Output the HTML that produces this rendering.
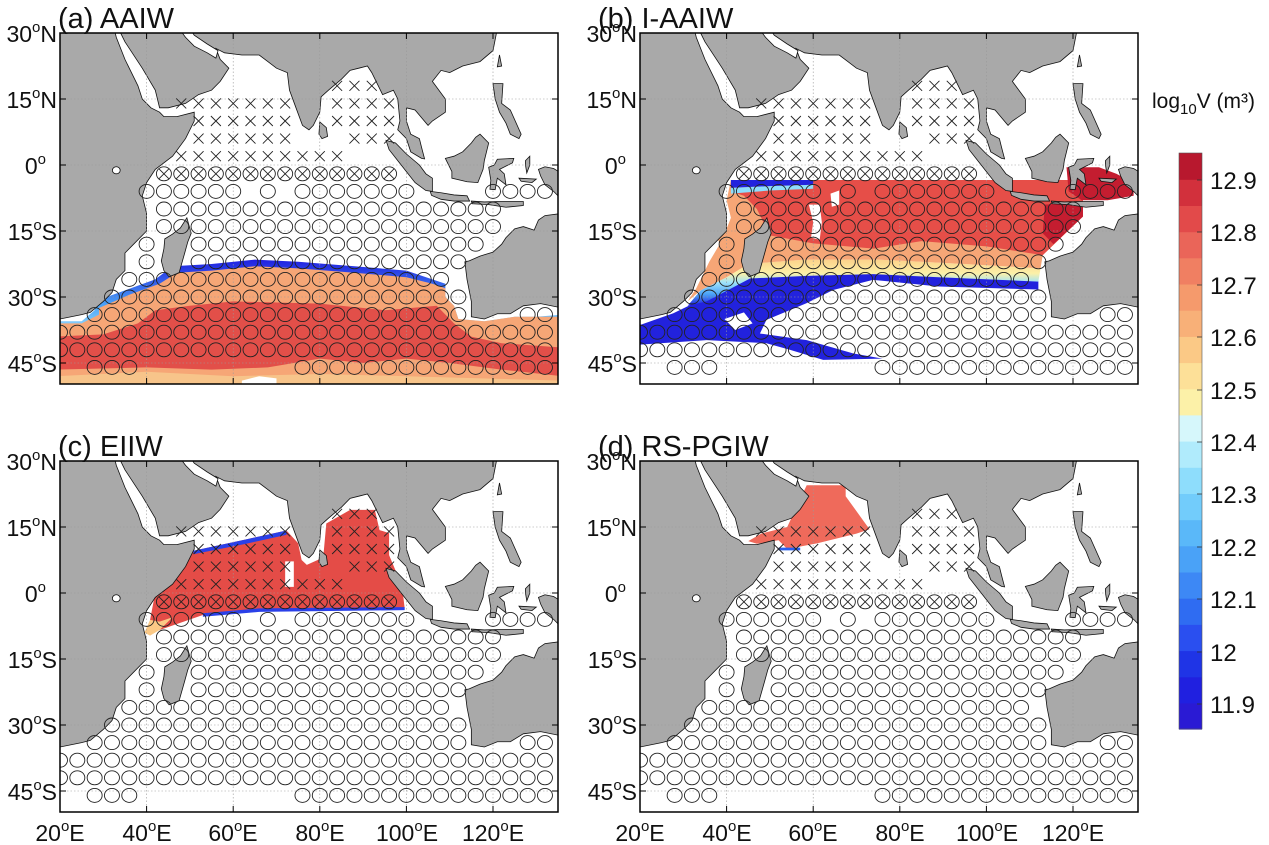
<!DOCTYPE html>
<html><head><meta charset="utf-8">
<style>
html,body{margin:0;padding:0;background:#fff;}
svg{display:block;font-family:"Liberation Sans",Arial,sans-serif;}
</style></head>
<body>
<svg id="s" width="1269" height="845" viewBox="0 0 1269 845" xmlns="http://www.w3.org/2000/svg">
<defs>
<clipPath id="cp"><rect x="0" y="0" width="498" height="351"/></clipPath>
<linearGradient id="bandB" x1="0" y1="0" x2="0" y2="1">
<stop offset="0" stop-color="#fcd28a"/><stop offset="0.3" stop-color="#fcf1a8"/><stop offset="0.5" stop-color="#9ee3fb"/><stop offset="0.75" stop-color="#4aa2f7"/><stop offset="1" stop-color="#2020e0"/>
</linearGradient>
<linearGradient id="bandA" x1="0" y1="0" x2="0" y2="1">
<stop offset="0" stop-color="#2020e0"/><stop offset="0.35" stop-color="#4aa2f7"/><stop offset="0.6" stop-color="#b0ebfc"/><stop offset="1" stop-color="#fcf1a8"/>
</linearGradient>
<g id="land" fill="#a9a9a9" stroke="#111" stroke-width="0.8" vector-effect="non-scaling-stroke">
<polygon vector-effect="non-scaling-stroke" points="19,-31 32.5,-31 33,-29 35,-24 38,-18 39,-15 41,-13 43,-12 44,-11 47,-11 51,-12 51,-10 49,-6 46,-2 42,1 40,4 39,7 40,11 40,15 37,18 35,20 35,24 33,26 32,29 30,31 27,33.5 25,34 20,35 19,35"/>
<polygon vector-effect="non-scaling-stroke" points="34,-31 34,-30 35,-28 39,-22 42,-17 43,-13 45,-13 49,-14 52,-16 55,-17 57,-19 59,-22 57,-24 56,-26.5 58,-25.5 62,-25 66,-25 68,-23.5 70,-22 72.5,-21 73,-17 74.5,-13 76,-9 77.5,-8 78.5,-9 80,-12 80.3,-15.5 82,-17 85,-19.5 87,-21.5 89,-22 91,-22.5 92,-21 94,-17 94.5,-16 97,-17 98,-15 98.5,-10 98,-8 100,-6 101,-3 103.5,-1.5 104.2,-1.4 103.5,-4 103,-6 101,-7 100,-10 100,-13 102,-12.5 105,-9 106,-10 109,-12 109,-15 106,-19 108,-21.5 110,-21 111,-21.5 113,-22.5 117,-23.5 120,-26 121,-31"/>
<polygon fill="#fff" vector-effect="non-scaling-stroke" points="47.5,-31 49,-29 51,-27 54,-25.5 56,-24.3 56.5,-26 54,-27.5 51,-29.5 50,-31"/>
<polygon vector-effect="non-scaling-stroke" points="80,-9.8 81.5,-8.5 81.8,-6.5 80.5,-6 79.8,-7"/>
<polygon vector-effect="non-scaling-stroke" points="95.3,-5.6 97.5,-5 100,-2.5 103,0 104.5,2 106,3 106,6 104.5,5.8 102,4 100,1.5 98,-1 96,-3.5"/>
<polygon vector-effect="non-scaling-stroke" points="105.5,6 108,6.3 111,6.8 114,7 114.6,8.2 111,8.2 108,7.8 105.8,6.9"/>
<polygon vector-effect="non-scaling-stroke" points="115,8.2 118,8.4 121,8.3 124,8.3 127,8.3 127,9.2 123,9.6 119,9 115.2,8.8"/>
<polygon vector-effect="non-scaling-stroke" points="109,-1.5 110.5,1.5 110.5,3 114,3.8 116.5,4 117.7,1 118,-1 119,-5 117,-7 116,-6.3 115,-5 113,-3 111,-2"/>
<polygon vector-effect="non-scaling-stroke" points="119,0.5 119.5,3.5 119.3,5.5 120.5,5.6 121,3 123,4.5 122.6,2 121.5,1 124.5,-0.5 124.8,-1.5 121,-1.3 120.3,0"/>
<polygon vector-effect="non-scaling-stroke" points="120,-18.5 122.3,-18.5 122,-14 124,-12.5 126.5,-7 126,-6 124,-7 123,-9.5 121.5,-12 120.5,-15"/>
<polygon vector-effect="non-scaling-stroke" points="127.5,-1 128.5,-2 128.5,0 127.8,1.8 127.5,0"/>
<polygon vector-effect="non-scaling-stroke" points="130.5,1 132,0.4 134,0.8 136,2 136,8 134,6 132,4.5 131,2.5"/>
<polygon vector-effect="non-scaling-stroke" points="126,3 130,3.2 129,4 126.5,3.7"/>
<polygon vector-effect="non-scaling-stroke" points="113.5,22 114,26 115,31 115,34.5 118,35 121,33.8 124,33.8 127,32 131,31.5 136,32.5 136,11 132,11.5 130.5,12.5 129.5,14.8 127,14 125,14.5 123,16.5 122,18 120,19.8 117,20.7 114.5,21.8"/>
<polygon vector-effect="non-scaling-stroke" points="49.3,12 50.3,15.5 49.5,17.5 48.8,20 47.5,24.5 45.2,25.4 44,24 43.4,21.8 44,19 44.2,16.8 46,15.7 47.8,14.3"/>
<polygon vector-effect="non-scaling-stroke" points="121.5,-25 122,-22.5 121,-22.3"/>
<ellipse vector-effect="non-scaling-stroke" cx="33" cy="1.2" rx="0.9" ry="0.8" fill="#fff"/>
</g>
</defs>
<g id="panels"></g>

<g id="cbar"></g>
<rect x="1179" y="153" width="23" height="576" fill="none" stroke="#555" stroke-width="0.6"/>
<g font-size="24" fill="#111">
<text x="1210" y="189">12.9</text>
<text x="1210" y="241">12.8</text>
<text x="1210" y="294">12.7</text>
<text x="1210" y="346">12.6</text>
<text x="1210" y="399">12.5</text>
<text x="1210" y="451">12.4</text>
<text x="1210" y="503">12.3</text>
<text x="1210" y="556">12.2</text>
<text x="1210" y="608">12.1</text>
<text x="1210" y="661">12</text>
<text x="1210" y="713">11.9</text>
<text x="1152" y="108" font-size="21">log<tspan font-size="15" dy="6">10</tspan><tspan dy="-6">V (m³)</tspan></text>
</g>

<g font-size="29" fill="#111">
<text x="58" y="28">(a) AAIW</text>
<text x="598" y="28">(b) I-AAIW</text>
<text x="58" y="456">(c) EIIW</text>
<text x="598" y="456">(d) RS-PGIW</text>
</g>
<g font-size="23" fill="#111" text-anchor="end">
<text x="57" y="42">30<tspan font-size="15" dy="-10">o</tspan><tspan dy="10">N</tspan></text>
<text x="57" y="108">15<tspan font-size="15" dy="-10">o</tspan><tspan dy="10">N</tspan></text>
<text x="46" y="174">0<tspan font-size="15" dy="-10">o</tspan></text>
<text x="57" y="240">15<tspan font-size="15" dy="-10">o</tspan><tspan dy="10">S</tspan></text>
<text x="57" y="306">30<tspan font-size="15" dy="-10">o</tspan><tspan dy="10">S</tspan></text>
<text x="57" y="372">45<tspan font-size="15" dy="-10">o</tspan><tspan dy="10">S</tspan></text>
<text x="637" y="42">30<tspan font-size="15" dy="-10">o</tspan><tspan dy="10">N</tspan></text>
<text x="637" y="108">15<tspan font-size="15" dy="-10">o</tspan><tspan dy="10">N</tspan></text>
<text x="626" y="174">0<tspan font-size="15" dy="-10">o</tspan></text>
<text x="637" y="240">15<tspan font-size="15" dy="-10">o</tspan><tspan dy="10">S</tspan></text>
<text x="637" y="306">30<tspan font-size="15" dy="-10">o</tspan><tspan dy="10">S</tspan></text>
<text x="637" y="372">45<tspan font-size="15" dy="-10">o</tspan><tspan dy="10">S</tspan></text>
<text x="57" y="470">30<tspan font-size="15" dy="-10">o</tspan><tspan dy="10">N</tspan></text>
<text x="57" y="536">15<tspan font-size="15" dy="-10">o</tspan><tspan dy="10">N</tspan></text>
<text x="46" y="602">0<tspan font-size="15" dy="-10">o</tspan></text>
<text x="57" y="668">15<tspan font-size="15" dy="-10">o</tspan><tspan dy="10">S</tspan></text>
<text x="57" y="734">30<tspan font-size="15" dy="-10">o</tspan><tspan dy="10">S</tspan></text>
<text x="57" y="800">45<tspan font-size="15" dy="-10">o</tspan><tspan dy="10">S</tspan></text>
<text x="637" y="470">30<tspan font-size="15" dy="-10">o</tspan><tspan dy="10">N</tspan></text>
<text x="637" y="536">15<tspan font-size="15" dy="-10">o</tspan><tspan dy="10">N</tspan></text>
<text x="626" y="602">0<tspan font-size="15" dy="-10">o</tspan></text>
<text x="637" y="668">15<tspan font-size="15" dy="-10">o</tspan><tspan dy="10">S</tspan></text>
<text x="637" y="734">30<tspan font-size="15" dy="-10">o</tspan><tspan dy="10">S</tspan></text>
<text x="637" y="800">45<tspan font-size="15" dy="-10">o</tspan><tspan dy="10">S</tspan></text>
</g>
<g font-size="23" fill="#111" text-anchor="middle">
<text x="60" y="841">20<tspan font-size="15" dy="-10">o</tspan><tspan dy="10">E</tspan></text>
<text x="147" y="841">40<tspan font-size="15" dy="-10">o</tspan><tspan dy="10">E</tspan></text>
<text x="233" y="841">60<tspan font-size="15" dy="-10">o</tspan><tspan dy="10">E</tspan></text>
<text x="320" y="841">80<tspan font-size="15" dy="-10">o</tspan><tspan dy="10">E</tspan></text>
<text x="407" y="841">100<tspan font-size="15" dy="-10">o</tspan><tspan dy="10">E</tspan></text>
<text x="493" y="841">120<tspan font-size="15" dy="-10">o</tspan><tspan dy="10">E</tspan></text>
<text x="640" y="841">20<tspan font-size="15" dy="-10">o</tspan><tspan dy="10">E</tspan></text>
<text x="727" y="841">40<tspan font-size="15" dy="-10">o</tspan><tspan dy="10">E</tspan></text>
<text x="813" y="841">60<tspan font-size="15" dy="-10">o</tspan><tspan dy="10">E</tspan></text>
<text x="900" y="841">80<tspan font-size="15" dy="-10">o</tspan><tspan dy="10">E</tspan></text>
<text x="987" y="841">100<tspan font-size="15" dy="-10">o</tspan><tspan dy="10">E</tspan></text>
<text x="1073" y="841">120<tspan font-size="15" dy="-10">o</tspan><tspan dy="10">E</tspan></text>
</g>
</svg>
<script>
(function(){
var cols=["#2a1ad4","#2020e0","#1f34e6","#2a4ff0","#2f6cf2","#3d88f5","#4aa2f7","#5ab8f9","#72ccfb","#8eddfc","#b0ebfc","#d6f7fb","#fcf1a8","#fde098","#fbc986","#f8b078","#f59a6c","#f07f62","#ea6559","#e24a4a","#d2303c","#b8182e"];
var cb="";
for(var i=0;i<22;i++){var y=729-(i+1)*576/22;cb+='<rect x="1179" y="'+y.toFixed(1)+'" width="23" height="'+(576/22+0.6).toFixed(1)+'" fill="'+cols[i]+'"/>';}
[189,241,294,346,399,451,503,556,608,661,713].forEach(function(t){var y=t-9;cb+='<line x1="1197" x2="1202" y1="'+y+'" y2="'+y+'" stroke="#333" stroke-width="0.8"/>';});
document.getElementById("cbar").innerHTML=cb;

function P(pts){return pts.map(function(p){return p[0]+","+(-p[1]);}).join(" ");}
function poly(pts,fill){return '<polygon points="'+P(pts)+'" fill="'+fill+'"/>';}

var fields={
a: poly([[28,-31],[35,-28.5],[42,-26],[46,-23],[55,-22.5],[65,-21.5],[75,-22],[88,-23],[100,-24],[106,-26],[109,-27],[109,-30],[111,-32],[112,-35],[118,-35.5],[125,-34.5],[130,-34.5],[136,-34],[136,-51],[19,-51],[19,-35.5],[25,-35.5],[28,-33]],"url(#bandA)")+
   poly([[29,-32.5],[36,-29.5],[43,-27],[47,-24.5],[55,-24],[65,-23],[75,-23.5],[88,-24.5],[100,-25.5],[106,-27],[109,-28],[109,-30],[111,-32],[112,-35],[118,-35.5],[125,-34.5],[130,-34.5],[136,-34.5],[136,-51],[19,-51],[19,-36],[25,-36],[29,-34]],"#f6a676")+
   poly([[38,-36],[42,-33],[50,-32],[60,-31],[80,-31.5],[95,-33],[107,-32],[111,-36],[115,-39],[122,-40.5],[136,-41.5],[136,-48],[122,-46.5],[110,-45],[100,-44],[90,-45],[80,-44],[68,-46],[55,-46.5],[40,-46],[19,-46.5],[19,-39],[30,-38.5]],"#e24f49")+
   poly([[19,-48],[40,-47],[60,-48],[80,-47.5],[100,-48],[136,-49],[136,-51],[19,-51]],"#f7c48a")+
   poly([[62,-49],[66,-48],[70,-48.5],[70,-51],[62,-51]],"#fff"),
b: poly([[19,-36.7],[27.7,-33.7],[35.4,-30],[45.4,-24.6],[58.5,-23.9],[73.8,-23.5],[89,-24.2],[112,-26.1],[112,-28.3],[89,-27.6],[73.8,-26.1],[64.6,-28.4],[58.5,-31.4],[49.2,-35.2],[47.7,-38.3],[58.5,-39.8],[69.2,-42.8],[76,-44],[62.3,-44.3],[54.6,-42],[49.2,-40.5],[35.4,-39.8],[19,-40.9]],"#2222dd")+
   poly([[39.5,-35],[44,-33.5],[46,-36],[42,-37.5]],"#fff")+
   poly([[34,-28.5],[40,-25.5],[45,-22.5],[58,-21.5],[75,-21.5],[95,-22.5],[112.5,-23.5],[112,-26.5],[89,-25.5],[73.8,-24.8],[58.5,-25.2],[45.4,-25.8],[35.4,-31],[31,-32]],"url(#bandB)")+
   poly([[41,-3.4],[122.3,-3.4],[122.3,-11.7],[113,-20.5],[112.5,-23.5],[95,-22.5],[75,-21.5],[58,-21.5],[45,-22.5],[40,-25.5],[34,-28.5],[31,-31],[33,-28],[36,-22],[39,-17],[41,-12],[40,-8]],"#f6a676")+
   poly([[41,-3.4],[122.3,-3.4],[122.3,-11.7],[113,-20.5],[100,-18.5],[85,-17.3],[74,-19],[60,-17.8],[50,-16],[47,-10],[44,-7],[41,-6]],"#e64e48")+
   poly([[41,-3.4],[60,-3.4],[60,-4.5],[50,-4.8],[41,-5.2]],"#2222dd")+
   poly([[41,-5.2],[50,-4.8],[60,-4.5],[60,-5.4],[50,-5.8],[41,-6.5]],"#8eddfc")+
   poly([[113.5,-9],[122.3,-8.5],[122.3,-11.7],[115.5,-18],[113,-15.5]],"#c41d30")+
   poly([[118.5,-0.5],[126,-0.5],[130,-2],[134,-4],[134,-7],[128,-8],[122,-8],[119,-6]],"#c41d30")+
   poly([[59,-9],[61.5,-9],[62,-13],[61.5,-17],[59.5,-16.5],[60,-13]],"#fff")+
   poly([[64,-6.5],[66,-5.8],[66,-9],[64.3,-9.5]],"#fff")+
   poly([[37,-15],[40,-14],[41,-18],[39,-19]],"#f6a676"),
c: poly([[40.8,-6.1],[42.3,1.6],[50.8,9.6],[63,12.2],[72.3,14.2],[75,11.3],[75.8,7.5],[77,6.4],[79.5,7.5],[80.8,8.2],[81.5,15.8],[87,18.9],[92.7,18.9],[93.8,14.3],[96,13.6],[96,8.6],[99,1.6],[99.6,-3.5],[66,-3.9],[53,-5],[43,-8.4],[40.8,-9.2]],"#e44c47")+
   poly([[72,7.2],[74,7.2],[74,1.4],[72,1.4]],"#fff")+
   poly([[50.8,9.6],[63,12.2],[72.3,14.2],[72.3,13.2],[63,11.2],[50.8,8.8]],"#2a40e8")+
   poly([[53,-4.6],[66,-3.5],[99.6,-3.2],[99.6,-3.9],[66,-4.3],[53,-5.4]],"#2a40e8")+
   poly([[40.8,-6.1],[43,-6.5],[46,-5.5],[43,-8.4],[40.8,-9.7],[39.5,-9]],"#fbc986"),
d: poly([[45,11.8],[48,13.5],[54,15],[58.5,24.5],[67.5,24.5],[67.5,22],[73,14.5],[70,13.5],[61,11.3],[54,10],[52,12],[47,11.2]],"#ef6a5b")+
   poly([[52,9.7],[57,9.7],[57,10.3],[52,10.3]],"#2a60ee")
};

var Xrows={18:[[84,92]],14:[[48,72],[84,96]],10:[[52,72],[84,96]],6:[[52,72],[88,96]],2:[[48,84]]};
var OXrows={"-2":[[44,96]]};
var Orows={"-6":[[40,60],[68,68],[76,100],[120,132]],"-10":[[44,120]],"-14":[[44,120]],"-18":[[40,40],[52,116]],"-22":[[40,40],[52,112]],"-26":[[36,108]],"-30":[[32,112]],"-34":[[28,112],[128,132]],"-38":[[20,132]],"-42":[[20,132]],"-46":[[28,36],[76,132]]};
function markers(){
 var s="",sx=4.33,sy=4.4;
 function each(rows,fn){for(var k in rows){rows[k].forEach(function(r){for(var lon=r[0];lon<=r[1];lon+=4){fn((lon-20)*sx,(30-(+k))*sy);}});}}
 function cross(x,y){var d=5;return '<path d="M'+(x-d)+' '+(y-d)+'L'+(x+d)+' '+(y+d)+'M'+(x-d)+' '+(y+d)+'L'+(x+d)+' '+(y-d)+'"/>';}
 each(Xrows,function(x,y){s+=cross(x,y);});
 each(OXrows,function(x,y){s+='<ellipse cx="'+x+'" cy="'+y+'" rx="7.5" ry="7"/>'+cross(x,y);});
 each(Orows,function(x,y){s+='<ellipse cx="'+x+'" cy="'+y+'" rx="7.5" ry="7"/>';});
 return '<g fill="none" stroke="#222" stroke-width="0.9">'+s+'</g>';
}
var M=markers();
var org={a:[60,33],b:[640,33],c:[60,461],d:[640,461]};
var out="";
for(var k in org){
 var o=org[k];
 var g='<g transform="translate('+o[0]+','+o[1]+')"><g clip-path="url(#cp)"><rect width="498" height="351" fill="#fff"/>';
 g+='<g transform="scale(4.33,4.4) translate(-20,30)">'+fields[k]+'<use href="#land"/></g>';
 for(var lon=40;lon<=120;lon+=20){var x=(lon-20)*4.33;g+='<line x1="'+x+'" x2="'+x+'" y1="0" y2="351" stroke="#999" stroke-width="0.6" stroke-dasharray="1.5,2"/>';}
 for(var lat=15;lat>=-45;lat-=15){var y=(30-lat)*4.4;g+='<line x1="0" x2="498" y1="'+y+'" y2="'+y+'" stroke="#999" stroke-width="0.6" stroke-dasharray="1.5,2"/>';}
 g+=M+'</g>';
 for(var lon=40;lon<=120;lon+=20){var x=(lon-20)*4.33;g+='<line x1="'+x+'" x2="'+x+'" y1="351" y2="345" stroke="#000"/><line x1="'+x+'" x2="'+x+'" y1="0" y2="6" stroke="#000"/>';}
 for(var lat=15;lat>=-45;lat-=15){var y=(30-lat)*4.4;g+='<line x1="0" x2="6" y1="'+y+'" y2="'+y+'" stroke="#000"/><line x1="498" x2="492" y1="'+y+'" y2="'+y+'" stroke="#000"/>';}
 g+='<rect width="498" height="351" fill="none" stroke="#000" stroke-width="1.5"/></g>';
 out+=g;
}
document.getElementById("panels").innerHTML=out;
})();
</script>
</body></html>
